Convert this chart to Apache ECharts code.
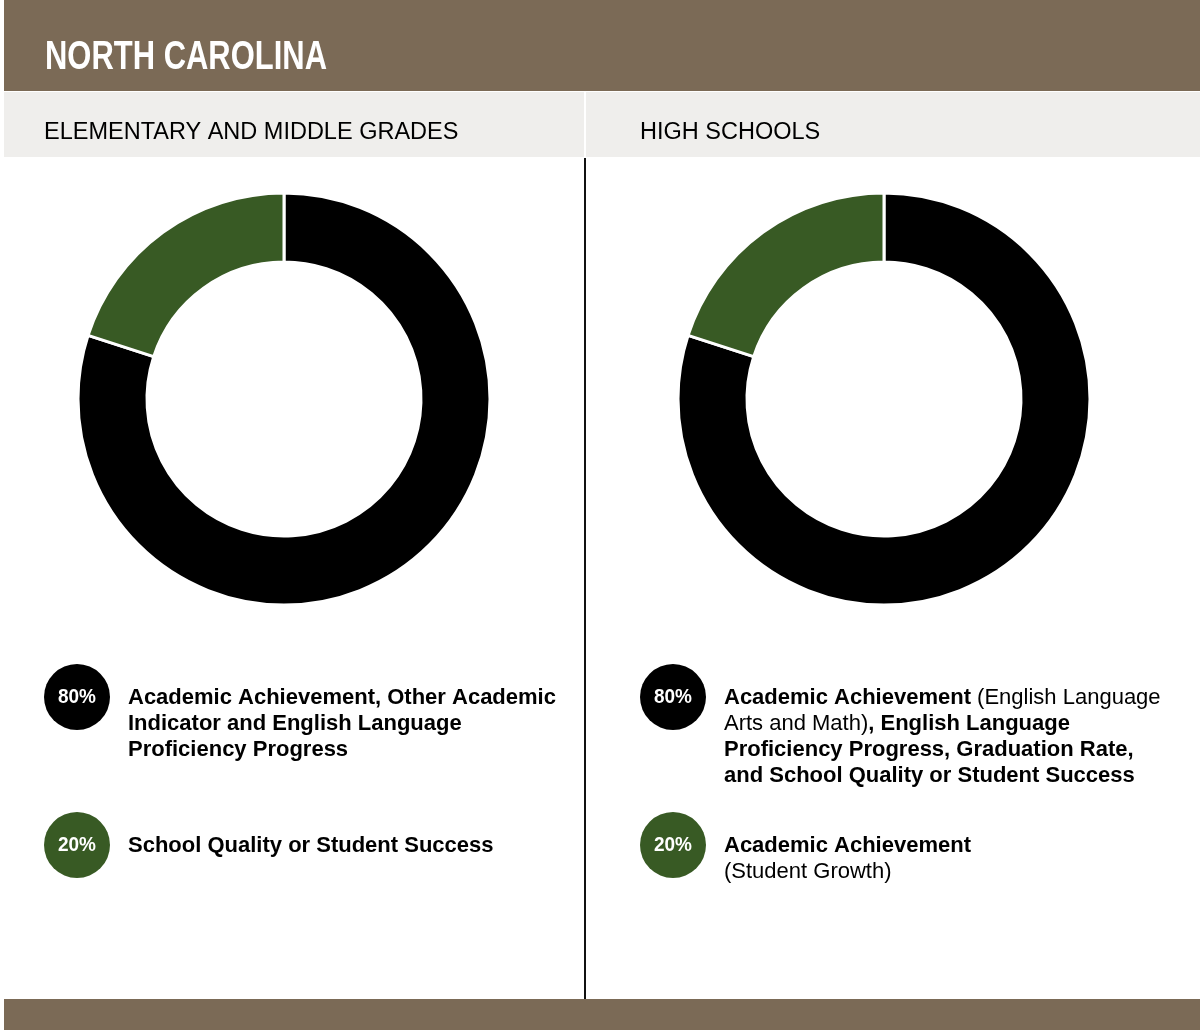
<!DOCTYPE html>
<html>
<head>
<meta charset="utf-8">
<script src="https://cdn.jsdelivr.net/npm/echarts@6/dist/echarts.min.js"></script>
<style>html,body{margin:0;padding:0;background:#fff}#c{width:1200px;height:1030px}</style>
</head>
<body>
<div id="c"></div>
<script>
var title = 'NORTH CAROLINA';
var panelTitles = ['ELEMENTARY AND MIDDLE GRADES', 'HIGH SCHOOLS'];
var categories = ['Main indicators', 'Other indicator'];
var elemValues = [80, 20];
var highValues = [80, 20];
var sliceColors = ['#000000', '#385a24'];
var elemLabels = [
  ['{b|Academic Achievement, Other Academic}', '{b|Indicator and English Language}', '{b|Proficiency Progress}'],
  ['{b|School Quality or Student Success}']
];
var highLabels = [
  ['{b|Academic Achievement }{r|(English Language}', '{r|Arts and Math)}{b|, English Language}', '{b|Proficiency Progress, Graduation Rate,}', '{b|and School Quality or Student Success}'],
  ['{b|Academic Achievement}', '{r|(Student Growth)}']
];

var BROWN = '#7b6a56';
var chart = echarts.init(document.getElementById('c'));
var FONT = '"Liberation Sans", Arial, sans-serif';
var ctx = document.createElement('canvas').getContext('2d');
function fitScale(text, font, target) {
  ctx.font = font;
  return target / ctx.measureText(text).width;
}
var rich = {
  b: {fontFamily: FONT, fontWeight: 'bold', fontSize: 22, lineHeight: 26, fill: '#000'},
  r: {fontFamily: FONT, fontWeight: 'normal', fontSize: 22, lineHeight: 26, fill: '#000'}
};
var titleFont = 'bold 40px ' + FONT;
var pctFont = 'bold 21px ' + FONT;
var pctScale = fitScale('80%', pctFont, 38);

function legendGraphics(cx, tx, values, labels) {
  var ys = [697, 845];
  var out = [];
  values.forEach(function (v, i) {
    out.push({type: 'circle', shape: {cx: cx, cy: ys[i], r: 33}, style: {fill: sliceColors[i]}});
    out.push({type: 'text', x: cx, y: ys[i], scaleX: pctScale, style: {text: v + '%', fill: '#fff', font: pctFont, align: 'center', verticalAlign: 'middle'}});
    out.push({type: 'text', x: tx, y: ys[i] - 12, style: {text: labels[i].join('\n'), rich: rich, align: 'left', verticalAlign: 'top', lineHeight: 26}});
  });
  return out;
}

var graphics = [
  {type: 'rect', shape: {x: 4, y: 0, width: 1196, height: 91}, style: {fill: BROWN}},
  {type: 'text', x: 45, y: 58, scaleX: fitScale(title, titleFont, 282), style: {text: title, fill: '#fff', font: titleFont, verticalAlign: 'middle'}},
  {type: 'rect', shape: {x: 4, y: 92, width: 1196, height: 65}, style: {fill: '#efeeec'}},
  {type: 'rect', shape: {x: 584, y: 92, width: 2, height: 65}, style: {fill: '#ffffff'}},
  {type: 'text', x: 44, y: 133, style: {text: panelTitles[0], fill: '#000', font: '23.5px ' + FONT, verticalAlign: 'middle'}},
  {type: 'text', x: 640, y: 133, style: {text: panelTitles[1], fill: '#000', font: '23.5px ' + FONT, verticalAlign: 'middle'}},
  {type: 'rect', shape: {x: 584, y: 158, width: 2, height: 842}, style: {fill: '#111'}},
  {type: 'rect', shape: {x: 4, y: 999, width: 1196, height: 31}, style: {fill: BROWN}}
].concat(legendGraphics(77, 128, elemValues, elemLabels))
 .concat(legendGraphics(673, 724, highValues, highLabels));

function pie(center, values) {
  return {
    type: 'pie', center: center, radius: [137, 206], startAngle: 90, clockwise: true,
    silent: true, label: {show: false}, labelLine: {show: false},
    itemStyle: {borderColor: '#fff', borderWidth: 3},
    data: values.map(function (v, i) { return {name: categories[i], value: v, itemStyle: {color: sliceColors[i]}}; })
  };
}

chart.setOption({
  animation: false,
  graphic: graphics,
  series: [pie([284, 399], elemValues), pie([884, 399], highValues)]
});
</script>
</body>
</html>
